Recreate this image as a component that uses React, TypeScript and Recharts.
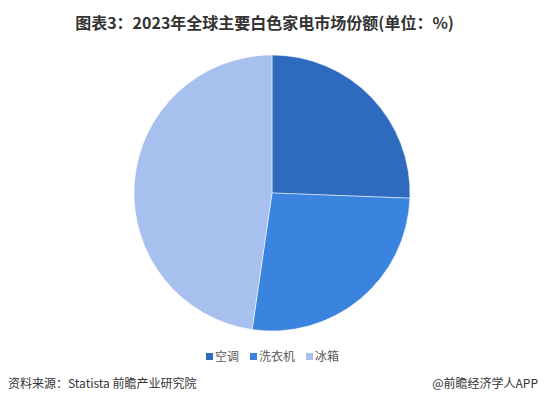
import React from "react";
import { PieChart, Pie, Cell, Legend } from "recharts";

const categories = ["空调", "洗衣机", "冰箱"];
const shares = [25.6, 26.7, 47.7];
const colors = ["#2E6BBF", "#3A83DF", "#A7C0EE"];

const data = categories.map((name, i) => ({ name, value: shares[i] }));

const FONT = '"Noto Sans CJK SC", "Microsoft YaHei", sans-serif';

function LegendContent() {
  return (
    <div style={{ display: "flex", justifyContent: "center", alignItems: "center", fontFamily: FONT, fontSize: 12, color: "#595959" }}>
      {categories.map((name, i) => (
        <div key={name} style={{ display: "flex", alignItems: "center", marginRight: i < categories.length - 1 ? 11 : 0 }}>
          <span style={{ display: "inline-block", width: 7, height: 7, background: colors[i], marginRight: 2 }} />
          <span style={{ lineHeight: "14px" }}>{name}</span>
        </div>
      ))}
    </div>
  );
}

export default function App() {
  return (
    <div style={{ position: "absolute", left: 0, top: 0, width: 545, height: 413, background: "#fff", overflow: "hidden", fontFamily: FONT }}>
      <div style={{ position: "absolute", left: -8, top: 10, width: 545, textAlign: "center", fontSize: 16, fontWeight: 700, color: "#333", lineHeight: "24px" }}>
        图表3：2023年全球主要白色家电市场份额(单位：%)
      </div>
      <div style={{ position: "absolute", left: 0, top: 0 }}>
        <PieChart width={545} height={413} margin={{ top: 0, right: 0, bottom: 0, left: 0 }}>
          <Pie
            data={data}
            dataKey="value"
            nameKey="name"
            cx={272}
            cy={193}
            outerRadius={138}
            startAngle={90}
            endAngle={-270}
            stroke="#ffffff"
            strokeWidth={0.5}
            isAnimationActive={false}
          >
            {data.map((d, i) => (
              <Cell key={d.name} fill={colors[i]} />
            ))}
          </Pie>
          <Legend
            content={<LegendContent />}
            wrapperStyle={{ position: "absolute", top: 349, left: 0, width: 545 }}
          />
        </PieChart>
      </div>
      <div style={{ position: "absolute", left: 8, top: 375, fontSize: 12, color: "#333", lineHeight: "16px" }}>
        资料来源：Statista 前瞻产业研究院
      </div>
      <div style={{ position: "absolute", right: 7, top: 375, fontSize: 12, color: "#333", lineHeight: "16px" }}>
        @前瞻经济学人APP
      </div>
    </div>
  );
}
